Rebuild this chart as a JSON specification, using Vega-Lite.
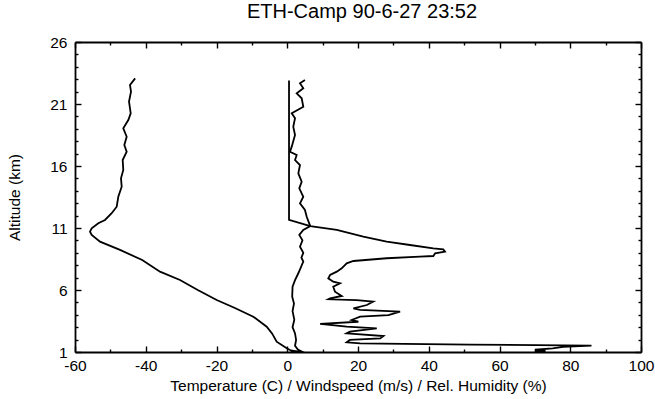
{
  "$schema": "https://vega.github.io/schema/vega-lite/v6.json",
  "width": 566,
  "height": 310,
  "autosize": {"type": "none"},
  "padding": {"left": 75, "top": 42, "right": 14, "bottom": 47},
  "background": "white",
  "title": {"text": "ETH-Camp 90-6-27 23:52", "font": "Liberation Sans", "fontSize": 20, "fontWeight": "normal", "color": "black", "offset": 13, "dx": 4},
  "config": {
    "view": {"stroke": null},
    "axis": {
      "domainColor": "black", "domainWidth": 1.8,
      "tickColor": "black", "tickWidth": 1.4,
      "labelFont": "Liberation Sans", "labelFontSize": 15.5, "labelColor": "black",
      "titleFont": "Liberation Sans", "titleFontSize": 15.5, "titleFontWeight": "normal", "titleColor": "black",
      "grid": false
    }
  },
  "data": {"values": [
    {"series":"T","value":-43.0,"altitude":23.07,"seq":1},
    {"series":"T","value":-44.45,"altitude":22.53,"seq":2},
    {"series":"T","value":-44.17,"altitude":21.99,"seq":3},
    {"series":"T","value":-44.73,"altitude":21.19,"seq":4},
    {"series":"T","value":-44.25,"altitude":20.25,"seq":5},
    {"series":"T","value":-44.93,"altitude":19.71,"seq":6},
    {"series":"T","value":-46.35,"altitude":19.04,"seq":7},
    {"series":"T","value":-45.39,"altitude":18.36,"seq":8},
    {"series":"T","value":-46.06,"altitude":17.69,"seq":9},
    {"series":"T","value":-45.39,"altitude":17.15,"seq":10},
    {"series":"T","value":-46.52,"altitude":16.48,"seq":11},
    {"series":"T","value":-46.35,"altitude":15.68,"seq":12},
    {"series":"T","value":-47.0,"altitude":15.01,"seq":13},
    {"series":"T","value":-46.8,"altitude":14.33,"seq":14},
    {"series":"T","value":-47.76,"altitude":13.52,"seq":15},
    {"series":"T","value":-48.21,"altitude":12.72,"seq":16},
    {"series":"T","value":-49.63,"altitude":12.19,"seq":17},
    {"series":"T","value":-51.52,"altitude":11.65,"seq":18},
    {"series":"T","value":-53.41,"altitude":11.38,"seq":19},
    {"series":"T","value":-55.28,"altitude":10.98,"seq":20},
    {"series":"T","value":-55.76,"altitude":10.70,"seq":21},
    {"series":"T","value":-55.28,"altitude":10.44,"seq":22},
    {"series":"T","value":-52.93,"altitude":9.90,"seq":23},
    {"series":"T","value":-47.28,"altitude":9.23,"seq":24},
    {"series":"T","value":-41.0,"altitude":8.42,"seq":25},
    {"series":"T","value":-35.97,"altitude":7.48,"seq":26},
    {"series":"T","value":-30.32,"altitude":6.81,"seq":27},
    {"series":"T","value":-25.3,"altitude":6.0,"seq":28},
    {"series":"T","value":-19.94,"altitude":5.19,"seq":29},
    {"series":"T","value":-14.8,"altitude":4.55,"seq":30},
    {"series":"T","value":-9.6,"altitude":3.85,"seq":31},
    {"series":"T","value":-5.81,"altitude":3.04,"seq":32},
    {"series":"T","value":-4.3,"altitude":2.5,"seq":33},
    {"series":"T","value":-2.99,"altitude":1.83,"seq":34},
    {"series":"T","value":-0.15,"altitude":1.30,"seq":35},
    {"series":"T","value":1.0,"altitude":1.12,"seq":36},
    {"series":"T","value":3.5,"altitude":1.0,"seq":37},

    {"series":"W","value":5.0,"altitude":22.94,"seq":1},
    {"series":"W","value":3.6,"altitude":22.67,"seq":2},
    {"series":"W","value":4.54,"altitude":22.27,"seq":3},
    {"series":"W","value":2.67,"altitude":21.86,"seq":4},
    {"series":"W","value":4.08,"altitude":21.46,"seq":5},
    {"series":"W","value":4.54,"altitude":20.78,"seq":6},
    {"series":"W","value":1.26,"altitude":20.25,"seq":7},
    {"series":"W","value":2.2,"altitude":19.85,"seq":8},
    {"series":"W","value":1.7,"altitude":19.17,"seq":9},
    {"series":"W","value":2.2,"altitude":18.5,"seq":10},
    {"series":"W","value":1.26,"altitude":17.56,"seq":11},
    {"series":"W","value":0.78,"altitude":17.15,"seq":12},
    {"series":"W","value":2.67,"altitude":16.89,"seq":13},
    {"series":"W","value":2.2,"altitude":16.48,"seq":14},
    {"series":"W","value":3.6,"altitude":16.08,"seq":15},
    {"series":"W","value":3.13,"altitude":15.41,"seq":16},
    {"series":"W","value":4.08,"altitude":14.73,"seq":17},
    {"series":"W","value":3.4,"altitude":14.2,"seq":18},
    {"series":"W","value":4.54,"altitude":13.52,"seq":19},
    {"series":"W","value":3.6,"altitude":12.99,"seq":20},
    {"series":"W","value":5.0,"altitude":12.45,"seq":21},
    {"series":"W","value":5.5,"altitude":11.91,"seq":22},
    {"series":"W","value":6.5,"altitude":11.15,"seq":23},
    {"series":"W","value":4.54,"altitude":10.84,"seq":24},
    {"series":"W","value":3.4,"altitude":10.44,"seq":25},
    {"series":"W","value":4.3,"altitude":10.0,"seq":26},
    {"series":"W","value":3.6,"altitude":9.5,"seq":27},
    {"series":"W","value":4.54,"altitude":9.0,"seq":28},
    {"series":"W","value":4.0,"altitude":8.6,"seq":29},
    {"series":"W","value":4.54,"altitude":8.3,"seq":30},
    {"series":"W","value":3.13,"altitude":7.35,"seq":31},
    {"series":"W","value":2.2,"altitude":6.8,"seq":32},
    {"series":"W","value":1.5,"altitude":6.27,"seq":33},
    {"series":"W","value":1.4,"altitude":5.46,"seq":34},
    {"series":"W","value":1.9,"altitude":4.9,"seq":35},
    {"series":"W","value":1.5,"altitude":4.3,"seq":36},
    {"series":"W","value":2.0,"altitude":3.6,"seq":37},
    {"series":"W","value":1.5,"altitude":3.0,"seq":38},
    {"series":"W","value":2.2,"altitude":2.5,"seq":39},
    {"series":"W","value":2.5,"altitude":1.97,"seq":40},
    {"series":"W","value":2.2,"altitude":1.5,"seq":41},
    {"series":"W","value":3.0,"altitude":1.2,"seq":42},
    {"series":"W","value":4.0,"altitude":1.05,"seq":43},
    {"series":"W","value":1.0,"altitude":1.0,"seq":44},

    {"series":"H","value":0.5,"altitude":22.9,"seq":1},
    {"series":"H","value":0.5,"altitude":11.65,"seq":2},
    {"series":"H","value":6.5,"altitude":11.15,"seq":3},
    {"series":"H","value":14.0,"altitude":10.84,"seq":4},
    {"series":"H","value":21.5,"altitude":10.3,"seq":5},
    {"series":"H","value":28.1,"altitude":9.9,"seq":6},
    {"series":"H","value":34.7,"altitude":9.63,"seq":7},
    {"series":"H","value":41.3,"altitude":9.36,"seq":8},
    {"series":"H","value":44.1,"altitude":9.28,"seq":9},
    {"series":"H","value":44.6,"altitude":9.09,"seq":10},
    {"series":"H","value":41.8,"altitude":8.96,"seq":11},
    {"series":"H","value":41.3,"altitude":8.74,"seq":12},
    {"series":"H","value":37.5,"altitude":8.69,"seq":13},
    {"series":"H","value":28.1,"altitude":8.56,"seq":14},
    {"series":"H","value":18.7,"altitude":8.34,"seq":15},
    {"series":"H","value":16.8,"altitude":8.15,"seq":16},
    {"series":"H","value":15.4,"altitude":7.75,"seq":17},
    {"series":"H","value":14.0,"altitude":7.48,"seq":18},
    {"series":"H","value":12.1,"altitude":7.21,"seq":19},
    {"series":"H","value":11.6,"altitude":6.94,"seq":20},
    {"series":"H","value":13.0,"altitude":6.67,"seq":21},
    {"series":"H","value":14.9,"altitude":6.54,"seq":22},
    {"series":"H","value":13.0,"altitude":6.27,"seq":23},
    {"series":"H","value":13.5,"altitude":5.86,"seq":24},
    {"series":"H","value":15.4,"altitude":5.52,"seq":25},
    {"series":"H","value":12.1,"altitude":5.33,"seq":26},
    {"series":"H","value":11.6,"altitude":5.25,"seq":27},
    {"series":"H","value":19.6,"altitude":5.19,"seq":28},
    {"series":"H","value":24.3,"altitude":5.06,"seq":29},
    {"series":"H","value":22.5,"altitude":4.79,"seq":30},
    {"series":"H","value":18.7,"altitude":4.52,"seq":31},
    {"series":"H","value":20.6,"altitude":4.39,"seq":32},
    {"series":"H","value":31.9,"altitude":4.25,"seq":33},
    {"series":"H","value":28.6,"altitude":3.98,"seq":34},
    {"series":"H","value":20.6,"altitude":3.85,"seq":35},
    {"series":"H","value":18.2,"altitude":3.58,"seq":36},
    {"series":"H","value":20.1,"altitude":3.44,"seq":37},
    {"series":"H","value":9.3,"altitude":3.26,"seq":38},
    {"series":"H","value":16.8,"altitude":3.04,"seq":39},
    {"series":"H","value":25.3,"altitude":2.91,"seq":40},
    {"series":"H","value":17.7,"altitude":2.64,"seq":41},
    {"series":"H","value":16.8,"altitude":2.51,"seq":42},
    {"series":"H","value":27.2,"altitude":2.29,"seq":43},
    {"series":"H","value":26.3,"altitude":2.10,"seq":44},
    {"series":"H","value":17.7,"altitude":1.97,"seq":45},
    {"series":"H","value":16.8,"altitude":1.78,"seq":46},
    {"series":"H","value":20.6,"altitude":1.70,"seq":47},
    {"series":"H","value":51.7,"altitude":1.60,"seq":48},
    {"series":"H","value":86.0,"altitude":1.52,"seq":49},
    {"series":"H","value":78.0,"altitude":1.42,"seq":50},
    {"series":"H","value":75.0,"altitude":1.30,"seq":51},
    {"series":"H","value":70.0,"altitude":1.18,"seq":52},
    {"series":"H","value":73.0,"altitude":1.08,"seq":53},
    {"series":"H","value":70.0,"altitude":1.0,"seq":54}
  ]},
  "layer": [
    {
      "mark": {"type": "line", "color": "black", "strokeWidth": 1.8, "interpolate": "linear"},
      "encoding": {
        "x": {"field": "value", "type": "quantitative",
          "scale": {"domain": [-60, 100], "nice": false, "zero": false},
          "axis": {"orient": "bottom", "values": [-60,-50,-40,-30,-20,-10,0,10,20,30,40,50,60,70,80,90,100],
            "labelExpr": "datum.value % 20 === 0 ? replace(datum.label, '−', '-') : ''",
            "tickSize": {"condition": {"test": "datum.value % 20 === 0", "value": -6}, "value": -3},
            "labelPadding": 12, "labelFlush": false, "labelOverlap": false,
            "title": "Temperature (C) / Windspeed (m/s) / Rel. Humidity (%)", "titlePadding": 2}},
        "y": {"field": "altitude", "type": "quantitative",
          "scale": {"domain": [1, 26], "nice": false, "zero": false},
          "axis": {"orient": "left", "values": [1,2,3,4,5,6,7,8,9,10,11,12,13,14,15,16,17,18,19,20,21,22,23,24,25,26],
            "labelExpr": "(datum.value - 1) % 5 === 0 ? datum.label : ''",
            "tickSize": {"condition": {"test": "(datum.value - 1) % 5 === 0", "value": -6}, "value": -3},
            "labelPadding": 14, "labelFlush": false, "labelOverlap": false,
            "title": "Altitude (km)", "titlePadding": 27}},
        "detail": {"field": "series"},
        "order": {"field": "seq"}
      }
    },
    {
      "mark": {"type": "line", "opacity": 0},
      "encoding": {
        "x": {"field": "value", "type": "quantitative",
          "axis": {"orient": "top", "values": [-60,-50,-40,-30,-20,-10,0,10,20,30,40,50,60,70,80,90,100],
            "labels": false, "title": null,
            "tickSize": {"condition": {"test": "datum.value % 20 === 0", "value": -6}, "value": -3}}},
        "y": {"field": "altitude", "type": "quantitative",
          "axis": {"orient": "right", "values": [1,2,3,4,5,6,7,8,9,10,11,12,13,14,15,16,17,18,19,20,21,22,23,24,25,26],
            "labels": false, "title": null,
            "tickSize": {"condition": {"test": "(datum.value - 1) % 5 === 0", "value": -6}, "value": -3}}},
        "detail": {"field": "series"},
        "order": {"field": "seq"}
      }
    }
  ],
  "resolve": {"axis": {"x": "independent", "y": "independent"}}
}
